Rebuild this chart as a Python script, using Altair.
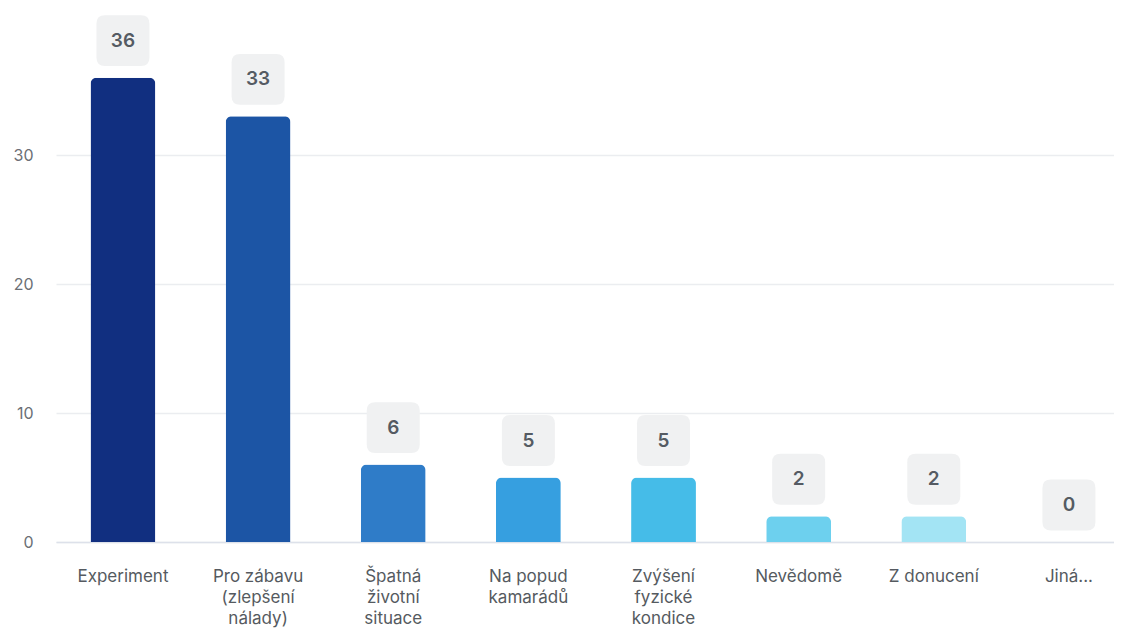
import altair as alt
import pandas as pd

categories = ["Experiment", "Pro zábavu (zlepšení nálady)", "Špatná životní situace",
              "Na popud kamarádů", "Zvýšení fyzické kondice", "Nevědomě", "Z donucení", "Jiná..."]
label_lines = [["Experiment"], ["Pro zábavu", "(zlepšení", "nálady)"], ["Špatná", "životní", "situace"],
               ["Na popud", "kamarádů"], ["Zvýšení", "fyzické", "kondice"], ["Nevědomě"], ["Z donucení"], ["Jiná..."]]
values = [36, 33, 6, 5, 5, 2, 2, 0]
colors = ["#112f80", "#1c55a5", "#2f7cc8", "#369fe0", "#45bce8", "#6dd0ee", "#a3e4f4", "#c8eef8"]

df = pd.DataFrame({"cat": categories, "value": values, "color": colors})

label_map = {c: "|".join(l) for c, l in zip(categories, label_lines)}
expr_parts = " : ".join([f"datum.label == '{c}' ? split('{v}', '|')" for c, v in label_map.items()])
label_expr = expr_parts + " : datum.label"

x = alt.X("cat:N", sort=categories, title=None,
          scale=alt.Scale(paddingInner=0.52, paddingOuter=0.1745, align=0.732),
          axis=alt.Axis(labelAngle=0, ticks=False, labelPadding=26, labelFont="Inter",
                        labelFontSize=17, labelColor="#555a60", labelLineHeight=21,
                        labelBaseline="top", domainColor="#dde1ea", domainWidth=1.5,
                        labelExpr=label_expr, labelLimit=200))
y = alt.Y("value:Q", title=None,
          scale=alt.Scale(domain=[0, 41.4], nice=False, zero=True),
          axis=alt.Axis(values=[0, 10, 20, 30], domain=False, ticks=False, labelPadding=23,
                        labelFont="Inter", labelFontSize=16, labelColor="#6b6f75",
                        gridColor="#ebedf0", gridWidth=1.5))

bars = alt.Chart(df).mark_bar(cornerRadiusTopLeft=6, cornerRadiusTopRight=6).encode(
    x=x, y=y, color=alt.Color("color:N", scale=None)
)

box_path = ("M -0.68,-0.96 L 0.68,-0.96 Q 1,-0.96 1,-0.64 L 1,0.64 Q 1,0.96 0.68,0.96 "
            "L -0.68,0.96 Q -1,0.96 -1,0.64 L -1,-0.64 Q -1,-0.96 -0.68,-0.96 Z")
boxes = alt.Chart(df).mark_point(shape=box_path, size=2809, filled=True, fill="#f0f1f2",
                                 opacity=1, strokeWidth=0, yOffset=-37).encode(
    x=alt.X("cat:N", sort=categories), y="value:Q"
)
texts = alt.Chart(df).mark_text(font="Inter", fontSize=19, fontWeight=600, color="#555b63",
                                yOffset=-37, baseline="middle", align="center").encode(
    x=alt.X("cat:N", sort=categories), y="value:Q", text="value:Q"
)

chart = alt.layer(bars, boxes, texts).properties(
    width=1058, height=534,
    autosize=alt.AutoSizeParams(type="none"),
    padding={"left": 48, "top": 0, "right": 0, "bottom": 88},
).configure(background="white").configure_view(stroke=None)

chart.save("out.html", embed_options={"renderer": "svg", "actions": False})
